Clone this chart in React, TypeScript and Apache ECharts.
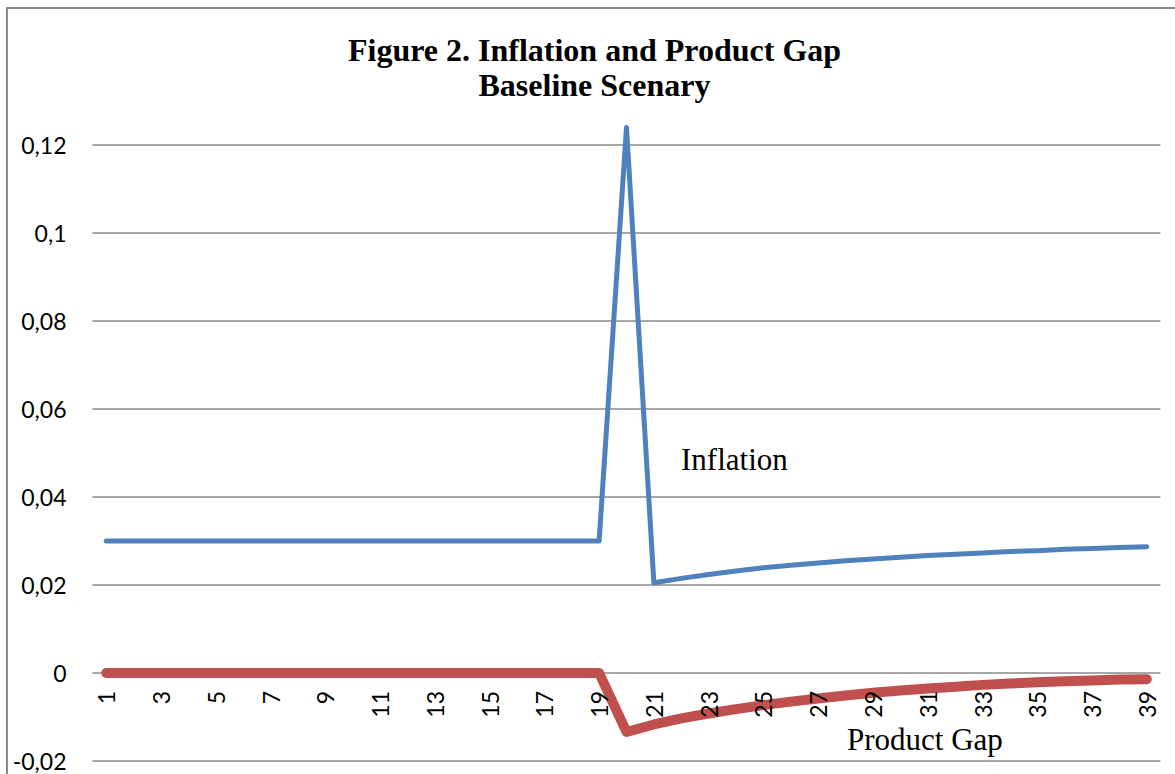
import React, { useEffect, useRef } from "react";
import * as echarts from "echarts";

const periods: string[] = [
  "1","2","3","4","5","6","7","8","9","10","11","12","13","14","15","16","17","18","19","20",
  "21","22","23","24","25","26","27","28","29","30","31","32","33","34","35","36","37","38","39",
];

const inflation: number[] = [
  0.03, 0.03, 0.03, 0.03, 0.03, 0.03, 0.03, 0.03, 0.03, 0.03,
  0.03, 0.03, 0.03, 0.03, 0.03, 0.03, 0.03, 0.03, 0.03, 0.124,
  0.0205, 0.0215, 0.0224, 0.0232, 0.0239, 0.0245, 0.025, 0.0255, 0.0259, 0.0263,
  0.0267, 0.027, 0.0273, 0.0276, 0.0278, 0.0281, 0.0283, 0.0285, 0.0287,
];

const productGap: number[] = [
  0, 0, 0, 0, 0, 0, 0, 0, 0, 0,
  0, 0, 0, 0, 0, 0, 0, 0, 0, -0.0134,
  -0.0117, -0.0103, -0.0092, -0.0082, -0.0073, -0.0065, -0.0058, -0.0051, -0.0045, -0.004,
  -0.0035, -0.0031, -0.0027, -0.0024, -0.0021, -0.0019, -0.0017, -0.0015, -0.0014,
];

const titleLines = ["Figure 2. Inflation and Product Gap", "Baseline Scenary"];
const seriesNames = ["Inflation", "Product Gap"];

export default function App() {
  const ref = useRef<HTMLDivElement>(null);
  useEffect(() => {
    if (!ref.current) return;
    const chart = echarts.init(ref.current, null, { renderer: "svg" });
    const gray = "#8a8a8a";
    const gridTop = 145;
    const gridBottom = 13;
    const yMin = -0.02;
    const yMax = 0.12;
    const plotH = 774 - gridTop - gridBottom;
    const zeroOffset = -(plotH * (0 - yMin)) / (yMax - yMin);
    chart.setOption({
      animation: false,
      backgroundColor: "#ffffff",
      title: {
        text: titleLines.join("\n"),
        left: 589.5,
        top: 27,
        textAlign: "center",
        textStyle: {
          fontFamily: "Liberation Serif",
          fontWeight: "bold",
          fontSize: 32,
          lineHeight: 35,
          color: "#000",
        },
      },
      grid: {
        left: 92.5,
        right: 14.5,
        top: gridTop,
        bottom: gridBottom,
        containLabel: false,
        outerBoundsMode: "none",
      },
      xAxis: {
        type: "category",
        data: periods,
        boundaryGap: true,
        offset: zeroOffset,
        z: 5,
        axisLine: { show: false, onZero: false },
        axisTick: { show: false },
        axisLabel: {
          interval: 1,
          rotate: 90,
          margin: 18,
          fontFamily: "Lato",
          fontSize: 23,
          color: "#000",
        },
        splitLine: { show: false },
      },
      yAxis: {
        type: "value",
        min: yMin,
        max: yMax,
        interval: 0.02,
        z: 0,
        axisLine: { show: false },
        axisTick: { show: false },
        axisLabel: {
          margin: 26,
          fontFamily: "Lato",
          fontSize: 23,
          color: "#000",
          formatter: (v: number) => {
            if (Math.abs(v) < 1e-9) return "0";
            return String(parseFloat(v.toFixed(4))).replace(".", ",");
          },
        },
        splitLine: { show: true, lineStyle: { color: gray, width: 1.5 } },
      },
      series: [
        {
          name: seriesNames[0],
          type: "line",
          data: inflation,
          symbol: "none",
          clip: false,
          z: 3,
          lineStyle: { color: "#4F81BD", width: 5, cap: "round", join: "round" },
        },
        {
          name: seriesNames[1],
          type: "line",
          data: productGap,
          symbol: "none",
          clip: false,
          z: 2,
          lineStyle: { color: "#C0504D", width: 10, cap: "round", join: "round" },
        },
      ],
      graphic: [
        {
          type: "rect",
          shape: { x: 7, y: 8, width: 1250, height: 850 },
          style: { fill: "none", stroke: gray, lineWidth: 2 },
          silent: true,
        },
        {
          type: "text",
          left: 681,
          top: 444,
          style: {
            text: seriesNames[0],
            fontFamily: "Liberation Serif",
            fontSize: 31,
            fill: "#000",
          },
        },
        {
          type: "text",
          left: 847,
          top: 724,
          style: {
            text: seriesNames[1],
            fontFamily: "Liberation Serif",
            fontSize: 31,
            fill: "#000",
          },
        },
      ],
    });
    return () => chart.dispose();
  }, []);
  return (
    <div
      ref={ref}
      style={{ position: "absolute", left: 0, top: 0, width: 1175, height: 774 }}
    />
  );
}
